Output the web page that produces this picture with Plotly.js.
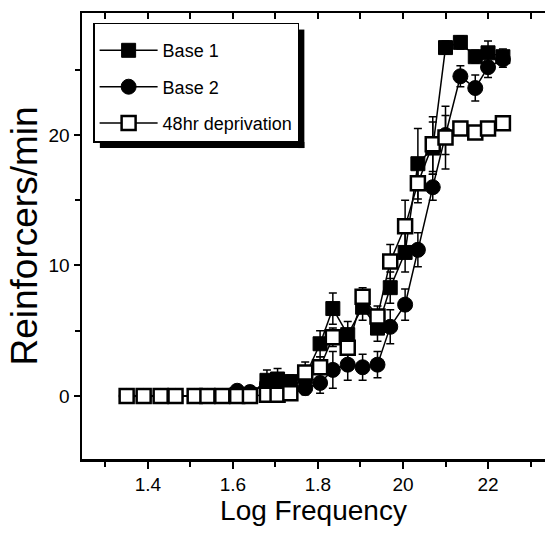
<!DOCTYPE html>
<html>
<head>
<meta charset="utf-8">
<script src="https://cdn.plot.ly/plotly-3.0.1.min.js"></script>
<style>
html,body{margin:0;padding:0;background:#fff;overflow:hidden;}
#chart{width:545px;height:546px;}
</style>
</head>
<body>
<div id="chart"></div>
<script>
// ---- data ----
const logFreq = [1.35,1.39,1.43,1.465,1.51,1.54,1.575,1.61,1.64,1.68,1.705,1.735,1.77,1.805,1.835,1.87,1.905,1.94,1.97,2.005,2.035,2.07,2.10,2.135,2.17,2.20,2.235];
const base1 = [0,0,0,0,0,0,0,0.1,0.1,1.2,1.3,1.1,1.5,4.0,6.7,4.7,6.8,5.2,8.3,11.0,17.8,19.0,26.7,27.1,26.0,26.3,26.0];
const base1Err = [0,0,0,0,0,0,0,0.1,0.1,0.8,0.8,0.5,0.6,1.0,1.2,1.0,1.0,1.0,1.2,1.5,2.7,2.0,0.5,0.5,0.5,0.9,0.6];
const base2 = [0,0,0,0,0,0,0,0.4,0.3,0.9,0.8,0.4,0.6,1.0,2.0,2.4,2.2,2.4,5.3,7.0,11.2,16.0,20.0,24.5,23.6,25.2,25.8];
const base2Err = [0,0,0,0,0,0,0,0.2,0.2,0.5,0.5,0.4,0.5,0.8,1.4,1.2,1.0,1.0,1.3,1.2,1.3,1.0,1.5,0.8,1.0,0.8,0.6];
const depr = [0,0,0,0,0,0,0,0,0,0.1,0.1,0.2,1.8,2.2,4.5,3.7,7.6,6.1,10.3,13.0,16.3,19.3,19.8,20.5,20.2,20.5,20.9];
const deprErr = [0,0,0,0,0,0,0,0.1,0.1,0.2,0.2,0.3,0.8,0.8,0.7,0.9,0.7,0.8,1.3,2.0,1.5,2.1,2.4,0.5,0.5,0.4,0.4];
const seriesNames = ['Base 1','Base 2','48hr deprivation'];
const xTickVals = [1.4,1.6,1.8,2.0,2.2];
const xTickText = ['1.4','1.6','1.8','20','22'];
const yTickVals = [0,10,20];
const yTickText = ['0','10','20'];
const xTitle = 'Log Frequency';
const yTitle = 'Reinforcers/min';

// ---- styling ----
const F = '"Liberation Sans",Arial,Helvetica,sans-serif';
const errStyle = arr => ({type:'data', array:arr, visible:true, color:'black', thickness:1.5, width:4});

const traces = [
  {x:logFreq, y:base1, name:seriesNames[0], legendgroup:'g1', type:'scatter', mode:'lines+markers',
   line:{color:'black', width:1.5},
   marker:{symbol:'square', size:14, color:'black', line:{color:'black', width:1}},
   error_y:errStyle(base1Err)},
  {x:logFreq, y:base2, name:seriesNames[1], legendgroup:'g2', type:'scatter', mode:'lines+markers',
   line:{color:'black', width:1.5},
   marker:{symbol:'circle', size:15, color:'black', line:{color:'black', width:1}},
   error_y:errStyle(base2Err)},
  {x:logFreq, y:depr, name:seriesNames[2], legendgroup:'g3', type:'scatter', mode:'lines+markers',
   line:{color:'black', width:1.5},
   marker:{symbol:'square', size:14, color:'white', line:{color:'black', width:2.5}},
   error_y:errStyle(deprErr)},
  {x:[], y:[], xaxis:'x2', yaxis:'y', type:'scatter', mode:'markers', showlegend:false, hoverinfo:'skip'}
];

const xr = [1.245, 2.334];
const layout = {
  width:545, height:546,
  margin:{l:82, r:0, t:13, b:87, pad:0},
  paper_bgcolor:'white', plot_bgcolor:'white',
  font:{family:F, color:'black'},
  showlegend:true,
  xaxis:{
    range:xr, tickmode:'array', tickvals:xTickVals, ticktext:xTickText,
    ticks:'outside', ticklen:7, tickwidth:2, tickcolor:'black',
    minor:{tickmode:'linear', tick0:1.3, dtick:0.1, ticks:'outside', ticklen:5, tickwidth:2, tickcolor:'black'},
    showline:true, linewidth:2.5, linecolor:'black', mirror:false,
    showgrid:false, zeroline:false,
    tickfont:{family:F, size:19, color:'black'},
    title:{text:xTitle, font:{family:F, size:28, color:'black'}, standoff:6}
  },
  xaxis2:{
    overlaying:'x', side:'top', anchor:'y', range:xr,
    tickmode:'linear', tick0:1.3, dtick:0.1,
    ticks:'inside', ticklen:6, tickwidth:2, tickcolor:'black',
    showticklabels:false, showline:true, linewidth:2.5, linecolor:'black',
    showgrid:false, zeroline:false
  },
  yaxis:{
    range:[-4.83, 29.35], tickmode:'array', tickvals:yTickVals, ticktext:yTickText,
    ticks:'outside', ticklen:6, tickwidth:2, tickcolor:'black',
    minor:{tickmode:'linear', tick0:5, dtick:10, ticks:'outside', ticklen:5, tickwidth:2, tickcolor:'black'},
    showline:true, linewidth:2.5, linecolor:'black', mirror:false,
    showgrid:false, zeroline:false,
    tickfont:{family:F, size:19, color:'black'},
    title:{text:yTitle, font:{family:F, size:37, color:'black'}, standoff:0}
  },
  legend:{
    x:0.024, y:0.978, xanchor:'left', yanchor:'top',
    bgcolor:'white', bordercolor:'black', borderwidth:1.5,
    font:{family:F, size:18, color:'black'},
    title:{text:' ', font:{family:F, size:6}},
    itemwidth:58, tracegroupgap:10, traceorder:'grouped'
  }
};

const gd = document.getElementById('chart');
Plotly.newPlot(gd, traces, layout, {displayModeBar:false, staticPlot:true}).then(() => {
  const bg = gd.querySelector('.legend .bg');
  if (!bg) return;
  const r = bg.getBoundingClientRect();
  const g = gd.getBoundingClientRect();
  const s = gd._fullLayout._size;
  const px = v => (v - g.left - s.l) / s.w;
  const py = v => 1 - (v - g.top - s.t) / s.h;
  const off = 6, th = 6;
  const L = r.left, R = r.right, T = r.top, B = r.bottom;
  const shapes = [
    {type:'rect', xref:'paper', yref:'paper', x0:px(R), x1:px(R+th), y0:py(T+off), y1:py(B+th), fillcolor:'black', line:{width:0}},
    {type:'rect', xref:'paper', yref:'paper', x0:px(L+off), x1:px(R+th), y0:py(B), y1:py(B+th), fillcolor:'black', line:{width:0}}
  ];
  Plotly.relayout(gd, {shapes:shapes});
});
</script>
</body>
</html>
